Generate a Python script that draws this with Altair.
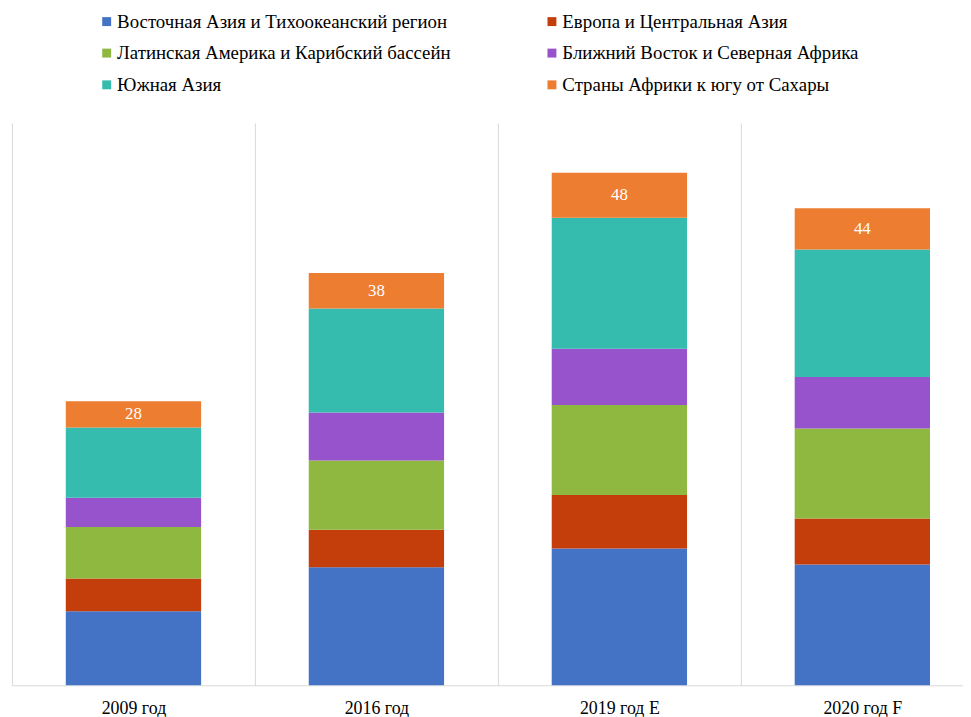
import altair as alt
import pandas as pd

years = ["2009 год", "2016 год", "2019 год E", "2020 год F"]
regions = [
    "Восточная Азия и Тихоокеанский регион",
    "Европа и Центральная Азия",
    "Латинская Америка и Карибский бассейн",
    "Ближний Восток и Северная Африка",
    "Южная Азия",
    "Страны Африки к югу от Сахары",
]
colors = ["#4472C4", "#C43E0C", "#8FB840", "#9653CB", "#36BBAF", "#ED7D31"]

east_asia = [79, 126, 146, 129]
europe = [35, 40, 57, 49]
latam = [55, 74, 96, 96]
mena = [31, 51, 60, 55]
south_asia = [75, 111, 140, 136]
ssa = [28, 38, 48, 44]

series = [east_asia, europe, latam, mena, south_asia, ssa]
rows = []
for i, (reg, vals) in enumerate(zip(regions, series)):
    for y, v in zip(years, vals):
        rows.append({"year": y, "region": reg, "idx": i, "value": v})
df = pd.DataFrame(rows)

# legend is laid out column by column: reorder so it reads row by row
legend_order = [0, 2, 4, 1, 3, 5]
leg_domain = [regions[i] for i in legend_order]
leg_range = [colors[i] for i in legend_order]

FONT = "Liberation Serif, Times New Roman, serif"

xscale = alt.Scale(domain=years, range=[0, 980], paddingInner=0, paddingOuter=0)
yscale = alt.Scale(domain=[0, 600], nice=False, zero=True)

xaxis = alt.Axis(
    title=None, labelAngle=0, tickBand="extent", grid=True, gridColor="#D9D9D9",
    gridWidth=1, ticks=False, domainColor="#D9D9D9", domainWidth=1,
    labelFont=FONT, labelFontSize=18, labelColor="#000000", labelPadding=14,
)

base = alt.Chart(df)

bars = base.mark_bar(width=alt.RelativeBandSize(0.557)).encode(
    x=alt.X("year:N", sort=years, scale=xscale, axis=xaxis),
    y=alt.Y("value:Q", stack="zero", scale=yscale, axis=None),
    color=alt.Color(
        "region:N",
        scale=alt.Scale(domain=leg_domain, range=leg_range),
        legend=alt.Legend(
            title=None, orient="none", legendX=86, legendY=-112, columns=2,
            symbolType="square", symbolSize=81, symbolStrokeWidth=0,
            labelFont=FONT, labelFontSize=19, labelColor="#000000",
            labelLimit=600, columnPadding=92, rowPadding=12, labelOffset=1,
        ),
    ),
    order=alt.Order("idx:Q", sort="ascending"),
)

labels = (
    base.transform_stack(
        stack="value", groupby=["year"], as_=["y0", "y1"],
        sort=[alt.SortField("idx", order="ascending")],
    )
    .transform_filter(alt.datum.idx == 5)
    .transform_calculate(mid="(datum.y0 + datum.y1) / 2")
    .mark_text(font=FONT, fontSize=17, color="white", baseline="middle")
    .encode(
        x=alt.X("year:N", sort=years, scale=xscale, axis=xaxis),
        y=alt.Y("mid:Q", scale=yscale, axis=None),
        text=alt.Text("value:Q"),
    )
)

chart = (
    alt.layer(bars, labels)
    .properties(
        width=959, height=567,
        padding={"left": 4, "top": 113, "right": 0, "bottom": 30},
        autosize=alt.AutoSizeParams(type="none"),
    )
    .configure(font=FONT)
    .configure_view(stroke=None)
)

chart.save("out.html", embed_options={"renderer": "svg", "actions": False})
